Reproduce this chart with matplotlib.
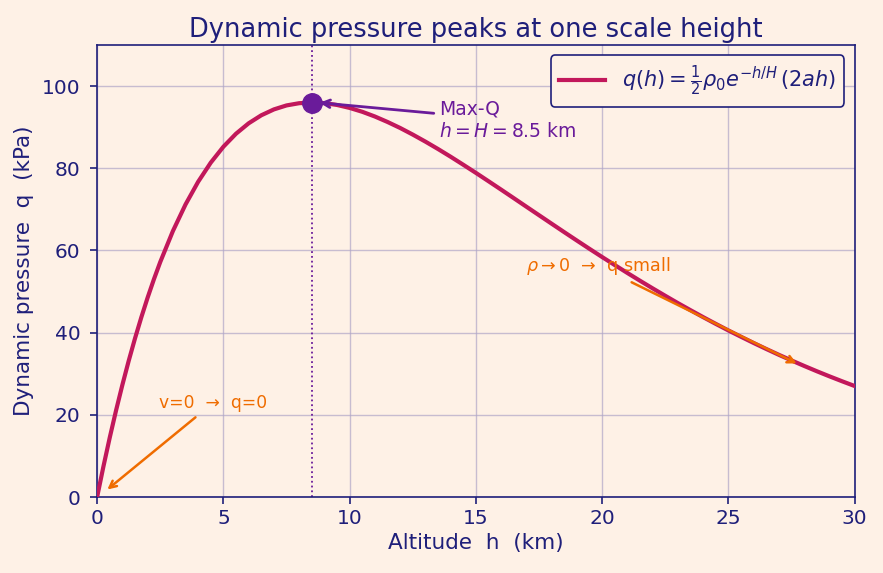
import matplotlib
matplotlib.use("Agg")
import matplotlib.pyplot as plt

# altitude (km) and dynamic pressure (kPa)
altitude = [0, 0.25, 0.5, 0.75, 1, 1.25, 1.5, 1.75, 2, 2.25, 2.5, 3, 3.5, 4, 4.5, 5, 5.5,
            6, 6.5, 7, 7.5, 8, 8.5, 9, 9.5, 10, 10.5, 11, 11.5, 12, 12.5, 13, 13.5, 14,
            14.5, 15, 15.5, 16, 16.5, 17, 17.5, 18, 18.5, 19, 19.5, 20, 20.5, 21, 21.5,
            22, 22.5, 23, 23.5, 24, 24.5, 25, 25.5, 26, 26.5, 27, 27.5, 28, 28.5, 29,
            29.5, 30]
pressure = [0, 7.45, 14.47, 21.08, 27.29, 33.13, 38.60, 43.73, 48.53, 53.01, 57.19, 64.71,
            71.18, 76.70, 81.36, 85.23, 88.40, 90.93, 92.88, 94.31, 95.28, 95.82, 95.99,
            95.84, 95.39, 94.67, 93.73, 92.58, 91.25, 89.79, 88.18, 86.47, 84.67, 82.79,
            80.84, 78.86, 76.83, 74.78, 72.71, 70.63, 68.56, 66.49, 64.43, 62.39, 60.37,
            58.38, 56.43, 54.50, 52.61, 50.76, 48.95, 47.17, 45.45, 43.76, 42.12, 40.52,
            38.98, 37.47, 36.01, 34.59, 33.22, 31.89, 30.60, 29.36, 28.16, 27.00]
peak_h = 8.5
peak_q = 95.99

bg = '#fef1e6'
navy = '#1f1f7a'
crimson = '#c2185b'
purple = '#6a1b9a'
orange = '#ef6c00'

fig = plt.figure(figsize=(8.83, 5.73), dpi=100, facecolor=bg)
ax = fig.add_axes([0.110, 0.1326, 0.858, 0.789])
ax.set_facecolor(bg)

ax.plot(altitude, pressure, color=crimson, lw=3, solid_joinstyle='round',
        label=r'$q(h)=\frac{1}{2}\rho_0 e^{-h/H}\,(2ah)$', zorder=3)
ax.axvline(peak_h, color=purple, lw=1.3, ls=':', zorder=2)
ax.plot([peak_h], [peak_q], 'o', color=purple, ms=14, zorder=4)

ax.annotate('Max-Q\n$h=H=8.5$ km', xy=(peak_h + 0.2, peak_q), xytext=(13.55, 91.7),
            color=purple, fontsize=13.5, va='center', ha='left',
            arrowprops=dict(arrowstyle='->', color=purple, lw=2))
ax.annotate('v=0  →  q=0', xy=(0.32, 1.4), xytext=(2.45, 22.9),
            color=orange, fontsize=12.3, ha='left', va='center',
            arrowprops=dict(arrowstyle='->', color=orange, lw=1.8, shrinkA=3))
ax.annotate(r'$\rho\rightarrow0$  →  q small', xy=(27.8, 32.2), xytext=(17.0, 56.2),
            color=orange, fontsize=12.6, ha='left', va='center',
            arrowprops=dict(arrowstyle='->', color=orange, lw=1.8, shrinkA=4))

ax.set_xlim(0, 30)
ax.set_ylim(0, 110)
ax.set_xticks(range(0, 31, 5))
ax.set_yticks(range(0, 101, 20))
ax.grid(True, color='#b0a6c8', lw=1, alpha=0.7)
ax.set_axisbelow(True)

for s in ax.spines.values():
    s.set_color(navy)
    s.set_linewidth(1.2)
ax.tick_params(colors=navy, labelsize=14.5, length=5, width=1.2)
ax.tick_params(axis='y', pad=7)

ax.set_title('Dynamic pressure peaks at one scale height', color=navy, fontsize=18.5)
ax.set_xlabel('Altitude  h  (km)', color=navy, fontsize=15.5)
ax.set_ylabel('Dynamic pressure  q  (kPa)', color=navy, fontsize=15.5, labelpad=6)

leg = ax.legend(loc='upper right', fontsize=15, facecolor=bg, edgecolor=navy,
                framealpha=1, handlelength=2.2, borderpad=0.4)
leg.get_frame().set_linewidth(1.2)
for t in leg.get_texts():
    t.set_color(navy)

fig.savefig('out.png', dpi=100, facecolor=bg)
